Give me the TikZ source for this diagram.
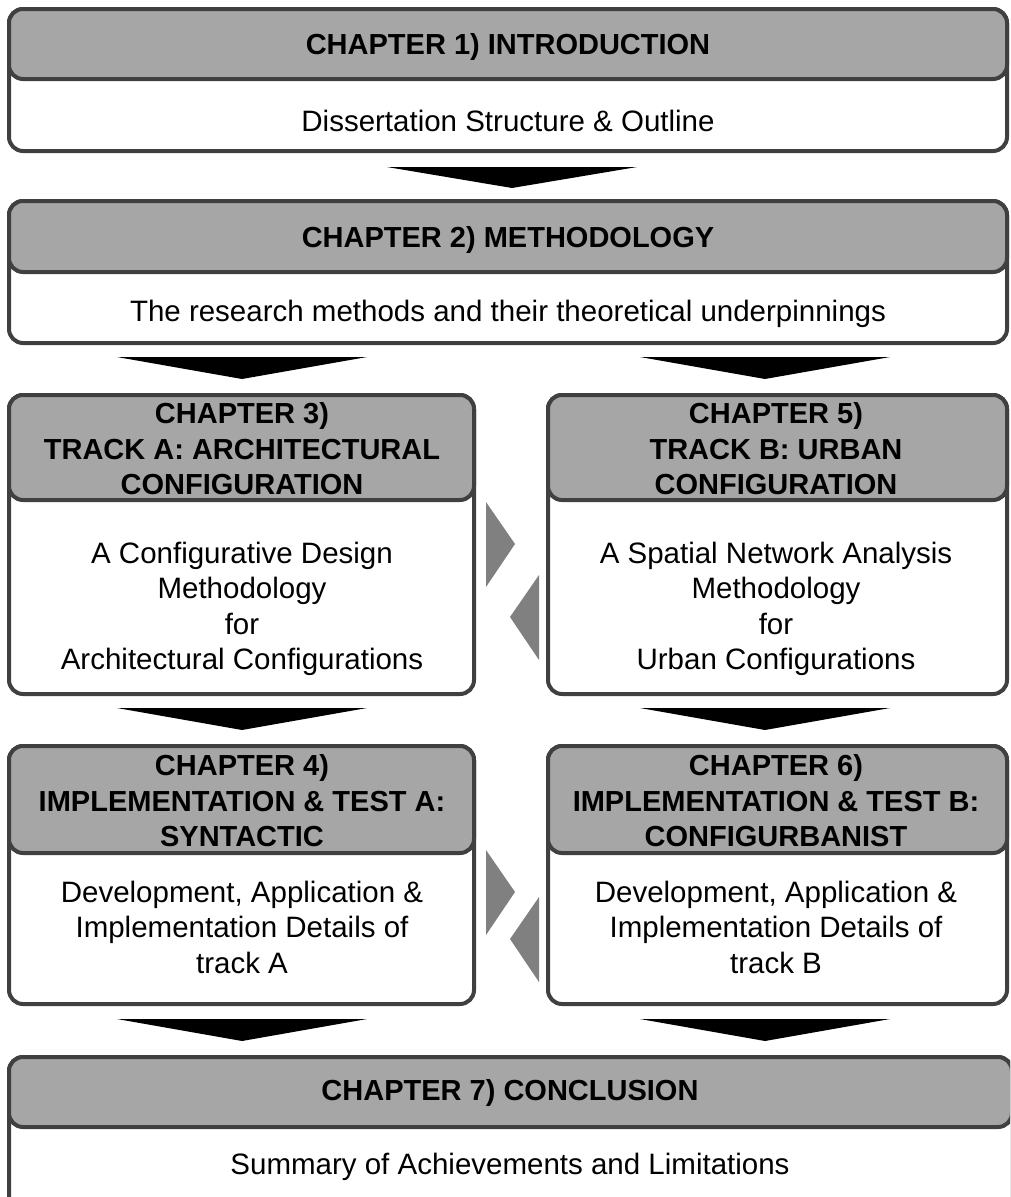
\documentclass[tikz,border=0pt]{standalone}
\usepackage{fontspec}
\setmainfont{Liberation Sans}
\usetikzlibrary{calc}
\definecolor{edgegray}{HTML}{404040}
\definecolor{headgray}{HTML}{A6A6A6}
\definecolor{sidegray}{HTML}{808080}
\tikzset{
  boxline/.style={draw=edgegray, line width=4pt, rounded corners=14pt},
  bodybox/.style={boxline, fill=white},
  headbox/.style={boxline, fill=headgray},
  headtext/.style={font=\fontsize{29}{35.5}\selectfont\bfseries, align=center, inner sep=0pt},
  bodytext/.style={font=\fontsize{29.5}{35.5}\selectfont, align=center, inner sep=0pt},
  downarrow/.style={fill=black, draw=none},
  sidearrow/.style={fill=sidegray, draw=none}
}
\begin{document}
\begin{tikzpicture}[x=1pt,y=-1pt]
\useasboundingbox (0,0) rectangle (1010,1197);
\clip (0,0) rectangle (1010,1197);

% Chapter 1
\draw[bodybox] (9,9) rectangle (1007,151);
\draw[headbox] (9,9) rectangle (1007,79);
\node[headtext] (h1) at (508,47) {CHAPTER 1) INTRODUCTION};
\node[bodytext] (b1) at (508,121) {Dissertation Structure \& Outline};

% Chapter 2
\draw[bodybox] (9,201) rectangle (1007,343);
\draw[headbox] (9,201) rectangle (1007,272);
\node[headtext] (h2) at (508,240) {CHAPTER 2) METHODOLOGY};
\node[bodytext] (b2) at (508,314) {The research methods and their theoretical underpinnings};

% Chapter 3
\draw[bodybox] (9,395) rectangle (474,694);
\draw[headbox] (9,395) rectangle (474,500);
\node[headtext] (h3) at (242,449) {CHAPTER 3)\\TRACK A: ARCHITECTURAL\\CONFIGURATION};
\node[bodytext] (b3) at (242,609) {A Configurative Design\\Methodology\\for\\Architectural Configurations};

% Chapter 5
\draw[bodybox] (548,395) rectangle (1007,694);
\draw[headbox] (548,395) rectangle (1007,500);
\node[headtext] (h5) at (776,449) {CHAPTER 5)\\TRACK B: URBAN\\CONFIGURATION};
\node[bodytext] (b5) at (776,609) {A Spatial Network Analysis\\Methodology\\for\\Urban Configurations};

% Chapter 4
\draw[bodybox] (9,746) rectangle (474,1004);
\draw[headbox] (9,746) rectangle (474,853);
\node[headtext] (h4) at (242,801) {CHAPTER 4)\\IMPLEMENTATION \& TEST A:\\SYNTACTIC};
\node[bodytext] (b4) at (242,927) {Development, Application \&\\Implementation Details of\\track A};

% Chapter 6
\draw[bodybox] (548,746) rectangle (1007,1004);
\draw[headbox] (548,746) rectangle (1007,853);
\node[headtext] (h6) at (776,801) {CHAPTER 6)\\IMPLEMENTATION \& TEST B:\\CONFIGURBANIST};
\node[bodytext] (b6) at (776,927) {Development, Application \&\\Implementation Details of\\track B};

% Chapter 7
\draw[bodybox] (9,1057) rectangle (1012,1212);
\draw[headbox] (9,1057) rectangle (1012,1127);
\node[headtext] (h7) at (510,1093) {CHAPTER 7) CONCLUSION};
\node[bodytext] (b7) at (510,1167) {Summary of Achievements and Limitations};

% down arrows
\fill[downarrow] (387,167) -- (637,167) -- (512,188) -- cycle;
\fill[downarrow] (117,357) -- (367,357) -- (242,379) -- cycle;
\fill[downarrow] (640,357) -- (890,357) -- (765,379) -- cycle;
\fill[downarrow] (117,708) -- (367,708) -- (242,730) -- cycle;
\fill[downarrow] (640,708) -- (890,708) -- (765,730) -- cycle;
\fill[downarrow] (117,1019) -- (367,1019) -- (242,1041) -- cycle;
\fill[downarrow] (640,1019) -- (890,1019) -- (765,1041) -- cycle;

% side arrows
\fill[sidearrow] (486,502) -- (515,544) -- (486,587) -- cycle;
\fill[sidearrow] (539,575) -- (510,617) -- (539,660) -- cycle;
\fill[sidearrow] (486,850) -- (515,892) -- (486,935) -- cycle;
\fill[sidearrow] (539,897) -- (510,939) -- (539,982) -- cycle;
\end{tikzpicture}
\end{document}
